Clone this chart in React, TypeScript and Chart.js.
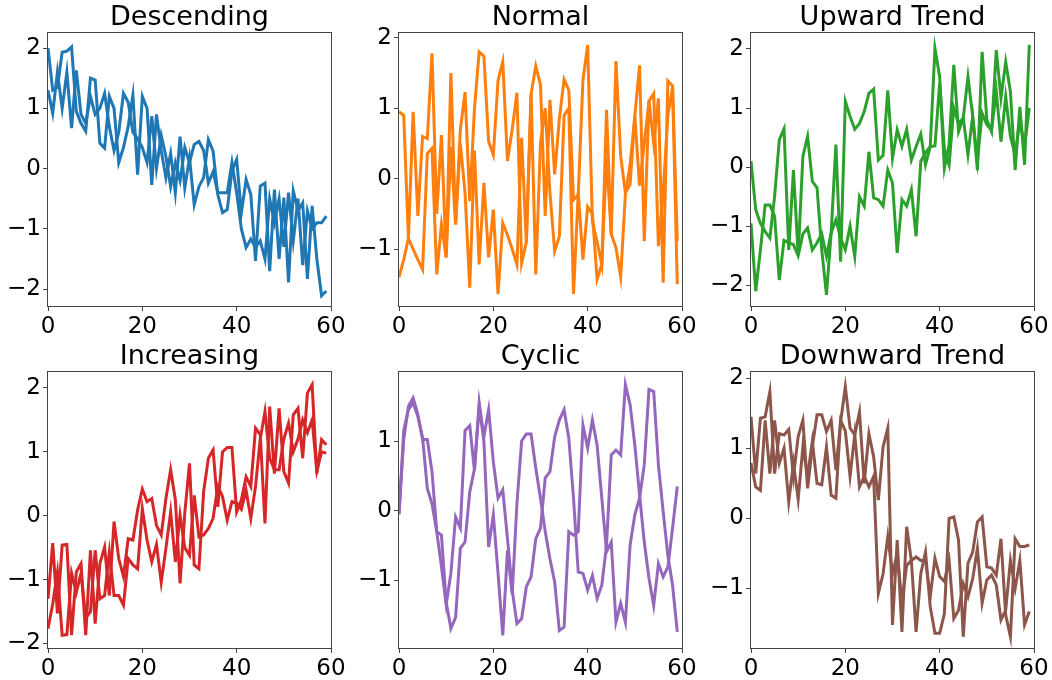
import React, { useEffect, useRef } from "react";
import { Chart, registerables } from "chart.js";
Chart.register(...registerables);

const xTicks = [0, 20, 40, 60];

const descendingA = [2.0, 1.3, 1.35, 1.93, 1.95, 2.02, 0.95, 0.75, 0.62, 1.5, 1.47, 0.42, 0.34, 1.2, 1.0, 0.1, 0.35, 0.7, 1.22, -0.1, 1.2, 1.0, -0.27, 0.9, 0.3, -0.15, 0.25, -0.4, 0.53, -0.32, 0.18, -0.6, -0.3, -0.15, 0.48, 0.29, -0.43, -0.73, -0.68, -0.04, 0.15, -0.73, -0.18, -0.43, -1.53, -0.29, -0.24, -1.7, -0.35, -1.5, -0.48, -1.89, -0.37, -0.7, -0.57, -1.83, -0.62, -1.5, -2.11, -2.03];
const descendingB = [1.3, 0.92, 1.6, 1.0, 1.6, 0.67, 1.63, 0.9, 0.75, 1.2, 0.9, 1.0, 1.25, 0.7, 0.3, 0.6, 1.25, 1.1, 0.6, 0.5, 0.35, 0.1, 0.87, 0.0, 0.55, 0.2, -0.3, 0.1, -0.2, 0.35, 0.1, 0.4, 0.45, 0.3, -0.24, -0.05, -0.4, -0.4, -0.4, 0.1, -0.4, -1.0, -1.31, -1.17, -1.31, -1.2, -1.5, -0.5, -0.9, -0.5, -1.3, -0.4, -1.2, -0.5, -1.6, -0.7, -1.0, -0.9, -0.9, -0.79];

const normalA = [0.95, 0.9, -0.85, 0.95, -0.53, 0.6, 0.57, 1.78, -0.5, 0.62, -1.12, 1.5, -0.65, 0.69, 1.23, -0.32, 1.0, 1.8, 1.74, 0.53, 0.34, 1.4, 1.66, 0.25, 0.7, 1.22, -1.2, -0.9, 1.2, 1.6, 1.33, -0.53, 1.12, 0.06, 0.85, 1.41, 1.26, -0.3, -0.23, 1.4, 1.9, -0.6, -0.9, -1.22, 0.98, -0.79, 1.67, 0.32, -0.2, -0.08, 0.89, 1.61, -0.89, 1.11, 0.5, 1.14, -1.48, 1.39, 1.32, -1.5];
const normalB = [-1.4, -1.15, -0.85, -1.0, -1.15, -1.29, 0.36, 0.43, -1.36, -0.65, -1.12, 0.45, -0.65, 0.5, -0.2, -1.55, 0.4, -1.22, -0.06, -1.12, -0.44, -1.64, -0.63, -0.8, -1.0, -1.22, 0.58, -0.91, 1.2, -1.36, 0.5, 1.0, -0.2, -1.03, -0.82, 0.9, 1.0, -1.64, -0.2, -1.15, -0.4, -0.5, -1.43, -1.22, 0.3, -0.79, -0.98, -1.4, -0.22, 0.2, 0.89, -0.1, 0.5, 1.1, 1.21, -0.96, -0.2, 0.9, 1.3, -0.89];

const upwardA = [0.1, -0.72, -0.95, -1.09, -1.2, -0.5, 0.46, 0.65, -1.4, -0.05, -1.48, 0.18, 0.52, -0.24, -0.35, -1.4, -2.16, -1.1, 0.38, -1.6, 1.11, 0.86, 0.64, 0.74, 0.94, 1.25, 1.32, 0.12, 0.2, 1.3, 0.15, 0.63, 0.35, 0.64, 0.12, 0.35, 0.56, 0.04, 0.35, 2.01, 1.53, -0.02, 0.38, 1.73, 0.6, 0.83, 1.53, 0.86, -0.05, 1.95, 0.8, 0.6, 1.98, 1.17, 1.78, 1.28, -0.05, 1.02, 0.04, 2.07];
const upwardB = [-0.95, -2.1, -1.4, -0.64, -0.64, -0.83, -1.91, -1.24, -1.28, -1.31, -1.5, -1.13, -1.03, -1.4, -1.28, -1.13, -1.51, -1.11, -0.89, -1.2, -1.4, -1.0, -1.51, -0.5, -0.66, 0.26, -0.52, -0.55, -0.66, -0.05, -0.27, -1.45, -0.55, -0.66, -0.38, -1.17, 0.1, 0.24, 0.35, 0.36, 1.42, 0.3, 0.04, 1.0, 0.74, 0.83, 0.21, 0.86, 0.1, 0.91, 0.72, 0.63, 1.28, 0.43, 1.19, 0.52, 0.21, 0.8, 0.35, 1.0];

const increasingA = [-1.3, -0.43, -1.53, -0.46, -0.45, -1.87, -0.88, -0.75, -1.87, -0.54, -1.69, -0.75, -0.49, -1.25, -0.09, -0.67, -0.95, -0.36, -0.38, 0.09, 0.42, 0.22, 0.27, -0.15, -0.3, 0.27, 0.72, 0.25, -1.06, 0.04, 0.82, -0.77, -0.83, 0.38, 0.9, 1.03, 0.14, 1.0, 1.07, 1.07, 0.06, 0.25, 0.61, 0.46, 1.37, 1.27, -0.12, 1.71, 0.66, 1.68, 0.69, 0.51, 1.58, 1.68, 0.9, 1.92, 2.05, 0.66, 1.19, 1.11];
const increasingB = [-1.77, -1.38, -0.88, -1.87, -1.86, -0.9, -1.2, -0.9, -1.6, -1.5, -0.54, -1.3, -1.25, -0.57, -1.25, -1.25, -1.4, -0.67, -0.77, -0.83, 0.11, -0.38, -0.72, -0.45, -1.04, -0.51, 0.06, -0.72, 0.01, -0.5, -0.62, 0.32, -0.33, -0.3, -0.2, -0.04, 0.46, 0.3, -0.07, 0.22, 0.2, 0.1, 0.4, -0.04, 0.46, 1.2, 1.63, 0.9, 0.72, 0.72, 1.2, 1.45, 1.0, 1.2, 1.5, 1.3, 1.5, 0.7, 1.0, 0.98];

const cyclicA = [-0.05, 1.02, 1.5, 1.62, 1.38, 1.02, 1.02, 0.56, -0.3, -0.35, -1.31, -1.69, -1.53, -0.54, -0.45, 0.27, 0.6, 1.55, 1.06, 1.45, 0.7, 0.18, 0.3, -0.4, -1.14, -1.62, -1.55, -1.09, -0.95, -0.4, -0.25, 0.47, 0.56, 1.06, 1.3, 1.45, 1.04, 0.18, -0.88, -0.9, -1.14, -0.93, -1.26, -1.07, -0.49, 0.8, 0.87, 0.8, 1.81, 1.52, 0.94, 0.23, -0.45, -0.97, -1.36, -0.76, -0.95, -0.81, -0.25, 0.35];
const cyclicB = [-0.05, 1.15, 1.45, 1.55, 1.35, 1.05, 0.32, 0.1, -0.3, -0.8, -1.35, -0.9, -0.09, -0.25, 1.15, 1.22, 0.58, 1.5, 1.0, -0.52, -0.06, -0.9, -1.79, -0.57, -1.2, 0.1, 1.0, 1.1, 1.1, 0.61, 0.18, -0.3, -0.69, -1.02, -1.72, -1.67, -0.3, -0.35, -0.3, 1.23, 0.9, 1.3, 0.94, 0.18, -0.59, -0.45, -1.6, -1.33, -1.6, -0.49, -0.06, 0.18, 0.66, 1.74, 1.71, 0.66, -0.01, -0.64, -1.07, -1.74];

const downwardA = [1.45, 0.64, 1.43, 1.45, 1.81, 0.64, 1.21, 1.19, 1.27, 0.6, 1.17, 1.4, 0.43, 1.02, 1.48, 1.48, 1.24, 1.4, 0.69, 1.38, 1.88, 1.29, 1.19, 1.52, 0.5, 1.21, 0.88, 0.26, 1.02, 1.29, -1.52, -0.31, -1.62, -0.12, -0.6, -1.62, -0.79, -0.48, -1.26, -1.64, -1.64, -1.36, 0.0, 0.02, -0.31, -1.69, -0.64, -0.48, -0.05, 0.02, -0.69, -0.71, -0.81, -0.29, -1.38, -1.69, -0.29, -0.4, -0.4, -0.38];
const downwardB = [0.79, 0.45, 0.4, 1.4, 0.64, 1.4, 0.79, 1.0, 0.24, 0.79, 0.27, 1.02, 0.6, 1.1, 0.5, 0.48, 1.02, 0.33, 0.29, 1.4, 1.25, 0.6, 1.2, 0.45, 0.6, 0.45, 0.6, -1.07, -0.79, -0.26, -0.79, -0.5, -1.2, -0.67, -0.6, -0.55, -0.6, -0.6, -1.12, -0.57, -0.83, -0.9, -0.6, -1.43, -1.31, -0.93, -1.12, -0.86, -0.43, -1.21, -0.88, -0.81, -0.95, -1.45, -1.31, -0.6, -1.0, -0.6, -1.52, -1.33];

const titles = ["Descending", "Normal", "Upward Trend", "Increasing", "Cyclic", "Downward Trend"];
const colors = ["#1f77b4", "#ff7f0e", "#2ca02c", "#d62728", "#9467bd", "#8c564b"];
const seriesA = [descendingA, normalA, upwardA, increasingA, cyclicA, downwardA];
const seriesB = [descendingB, normalB, upwardB, increasingB, cyclicB, downwardB];
const yTickLists = [[-2, -1, 0, 1, 2], [-1, 0, 1, 2], [-2, -1, 0, 1, 2], [-2, -1, 0, 1, 2], [-1, 0, 1], [-1, 0, 1, 2]];
const yMins = [-2.28, -1.81, -2.35, -2.07, -1.97, -1.85];
const yMaxs = [2.25, 2.07, 2.27, 2.25, 1.99, 2.09];

const FONT = "'DejaVu Sans', sans-serif";
const fmt = (v: any) => (Number(v) < 0 ? "\u2212" + Math.abs(Number(v)) : String(v));

function Panel(props: { idx: number; left: number; top: number; plotH: number }) {
  const { idx, left, top, plotH } = props;
  const ref = useRef<HTMLCanvasElement | null>(null);
  const W = 349;
  const padTop = 33;
  const axisH = 30;
  const H = padTop + plotH + axisH;
  useEffect(() => {
    const framePlugin = {
      id: "frame" + idx,
      afterDatasetsDraw(chart: any) {
        const { ctx, chartArea } = chart;
        const { left: l, top: t, right: r, bottom: b } = chartArea;
        ctx.save();
        ctx.strokeStyle = "#444";
        ctx.lineWidth = 1;
        ctx.strokeRect(Math.round(l) - 0.5, Math.round(t) - 0.5, Math.round(r - l) + 1, Math.round(b - t) + 1);
        ctx.fillStyle = "#000";
        ctx.font = "27px " + FONT;
        ctx.textAlign = "center";
        ctx.textBaseline = "alphabetic";
        ctx.fillText(titles[idx], (l + r) / 2, t - 8);
        ctx.restore();
      },
    };
    const mk = (arr: number[]) => ({
      data: arr.map((y, i) => ({ x: i, y })),
      borderColor: colors[idx],
      backgroundColor: colors[idx],
      borderWidth: 3,
      pointRadius: 0,
      tension: 0,
      fill: false,
      clip: 0,
    });
    const tickFont = { family: FONT, size: 23 };
    const chart = new Chart(ref.current as HTMLCanvasElement, {
      type: "line",
      data: { datasets: [mk(seriesA[idx]), mk(seriesB[idx])] },
      options: {
        responsive: false,
        animation: false,
        devicePixelRatio: 1,
        layout: { padding: { left: 0, top: padTop, right: 18, bottom: 0 } },
        plugins: { legend: { display: false }, tooltip: { enabled: false }, title: { display: false } },
        scales: {
          x: {
            type: "linear",
            min: 0,
            max: 60,
            afterBuildTicks: (s: any) => {
              s.ticks = xTicks.map((v) => ({ value: v }));
            },
            afterFit: (s: any) => {
              s.height = axisH;
            },
            ticks: { autoSkip: false, maxRotation: 0, padding: 2, color: "#000", font: tickFont, callback: fmt },
            grid: { display: true, drawOnChartArea: false, drawTicks: true, tickLength: 5, color: "#444", lineWidth: 1 },
            border: { display: false },
          },
          y: {
            type: "linear",
            min: yMins[idx],
            max: yMaxs[idx],
            afterBuildTicks: (s: any) => {
              s.ticks = yTickLists[idx].map((v) => ({ value: v }));
            },
            afterFit: (s: any) => {
              s.width = 48;
            },
            ticks: { autoSkip: false, padding: 2, color: "#000", font: tickFont, callback: fmt },
            grid: { display: true, drawOnChartArea: false, drawTicks: true, tickLength: 5, color: "#444", lineWidth: 1 },
            border: { display: false },
          },
        },
      } as any,
      plugins: [framePlugin],
    } as any);
    return () => chart.destroy();
  }, []);
  return (
    <canvas
      ref={ref}
      width={W}
      height={H}
      style={{ position: "absolute", left, top, width: W, height: H }}
    />
  );
}

export default function App() {
  const lefts = [0, 351, 703];
  return (
    <div style={{ position: "absolute", left: 0, top: 0, width: 1052, height: 680, background: "#fff", overflow: "hidden" }}>
      {[0, 1, 2, 3, 4, 5].map((i) => (
        <Panel key={i} idx={i} left={lefts[i % 3]} top={i < 3 ? 0 : 339} plotH={i < 3 ? 273 : 276} />
      ))}
    </div>
  );
}
